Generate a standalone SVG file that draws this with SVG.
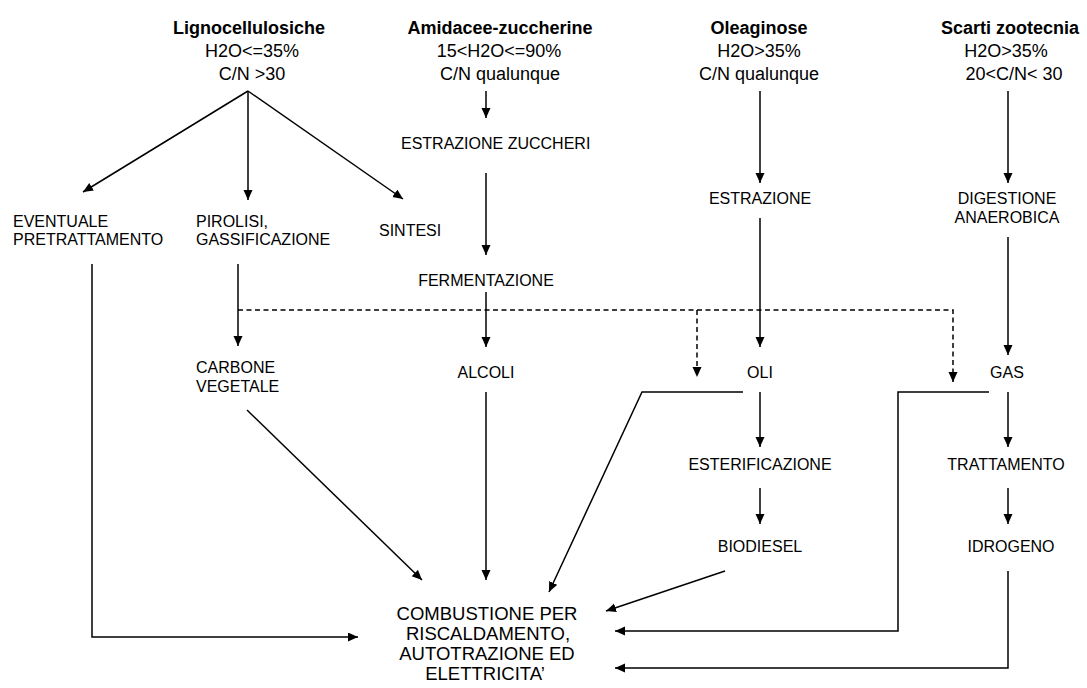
<svg xmlns="http://www.w3.org/2000/svg" width="1087" height="688" viewBox="0 0 1087 688">
<style>
.t{font-family:"Liberation Sans",Arial,sans-serif;font-size:18px;fill:#000;text-anchor:middle}
.b{font-weight:bold}
.n{font-family:"Liberation Sans",Arial,sans-serif;font-size:16px;fill:#000}
.m{text-anchor:middle}
.c{font-family:"Liberation Sans",Arial,sans-serif;font-size:18.5px;fill:#000;text-anchor:middle}
.l{fill:none;stroke:#000;stroke-width:1.5}
.a{marker-end:url(#ah)}
.d{stroke-dasharray:5,3.5}
</style>
<defs>
<marker id="ah" markerUnits="userSpaceOnUse" markerWidth="11" markerHeight="10" refX="10" refY="4.5" orient="auto" viewBox="0 0 11 10">
<path d="M0,0 L10,4.5 L0,9 z" fill="#000"/>
</marker>
</defs>
<rect width="1087" height="688" fill="#fff"/>
<g id="lignocellulosiche">
<text class="t b" x="249" y="34">Lignocellulosiche</text>
<text class="t" x="252" y="57">H2O&lt;=35%</text>
<text class="t" x="252" y="80">C/N &gt;30</text>
</g>
<g id="amidacee">
<text class="t b" x="500" y="34">Amidacee-zuccherine</text>
<text class="t" x="499" y="57">15&lt;H2O&lt;=90%</text>
<text class="t" x="500" y="80">C/N qualunque</text>
</g>
<g id="oleaginose">
<text class="t b" x="759" y="34">Oleaginose</text>
<text class="t" x="759" y="57">H2O&gt;35%</text>
<text class="t" x="759" y="80">C/N qualunque</text>
</g>
<g id="scarti">
<text class="t b" x="1010" y="34">Scarti zootecnia</text>
<text class="t" x="1006" y="57">H2O&gt;35%</text>
<text class="t" x="1014" y="80">20&lt;C/N&lt; 30</text>
</g>
<g id="eventuale"><text class="n" x="13" y="227">EVENTUALE</text><text class="n" x="13" y="245">PRETRATTAMENTO</text></g>
<g id="pirolisi"><text class="n" x="196" y="227">PIROLISI,</text><text class="n" x="196" y="245">GASSIFICAZIONE</text></g>
<g id="sintesi"><text class="n" x="379" y="236">SINTESI</text></g>
<g id="carbone"><text class="n" x="196" y="373">CARBONE</text><text class="n" x="196" y="392">VEGETALE</text></g>
<g id="estrazione-zuccheri"><text class="n" x="401" y="149">ESTRAZIONE ZUCCHERI</text></g>
<g id="fermentazione"><text class="n m" x="486" y="286">FERMENTAZIONE</text></g>
<g id="alcoli"><text class="n m" x="486" y="378">ALCOLI</text></g>
<g id="estrazione"><text class="n m" x="760" y="204">ESTRAZIONE</text></g>
<g id="oli"><text class="n m" x="760" y="378">OLI</text></g>
<g id="esterificazione"><text class="n m" x="760" y="470">ESTERIFICAZIONE</text></g>
<g id="biodiesel"><text class="n m" x="760" y="552">BIODIESEL</text></g>
<g id="digestione"><text class="n m" x="1007" y="204">DIGESTIONE</text><text class="n m" x="1007" y="223">ANAEROBICA</text></g>
<g id="gas"><text class="n m" x="1007" y="378">GAS</text></g>
<g id="trattamento"><text class="n m" x="1006" y="470">TRATTAMENTO</text></g>
<g id="idrogeno"><text class="n m" x="1011" y="552">IDROGENO</text></g>
<g id="combustione">
<text class="c" x="487" y="620">COMBUSTIONE PER</text>
<text class="c" x="488" y="640">RISCALDAMENTO,</text>
<text class="c" x="487" y="660">AUTOTRAZIONE ED</text>
<text class="c" x="485" y="680">ELETTRICITA’</text>
</g>
<g id="connectors">
<line class="l a" x1="248" y1="91" x2="83" y2="192"/>
<line class="l a" x1="248" y1="91" x2="248" y2="200"/>
<line class="l a" x1="248" y1="91" x2="403" y2="199"/>
<line class="l a" x1="486" y1="91" x2="486" y2="118"/>
<line class="l a" x1="486" y1="173" x2="486" y2="255"/>
<line class="l a" x1="486" y1="292" x2="486" y2="347"/>
<line class="l a" x1="486" y1="392" x2="486" y2="580"/>
<line class="l a" x1="760" y1="91" x2="760" y2="183"/>
<line class="l a" x1="760" y1="218" x2="760" y2="347"/>
<line class="l a" x1="760" y1="392" x2="760" y2="447"/>
<line class="l a" x1="760" y1="488" x2="760" y2="524"/>
<line class="l a" x1="1008" y1="91" x2="1008" y2="183"/>
<line class="l a" x1="1008" y1="237" x2="1008" y2="355"/>
<line class="l a" x1="1008" y1="392" x2="1008" y2="447"/>
<line class="l a" x1="1008" y1="488" x2="1008" y2="524"/>
<line class="l a" x1="238" y1="264" x2="238" y2="346"/>
<polyline class="l a" points="92,264 92,637 358,637"/>
<line class="l a" x1="247" y1="410" x2="422" y2="580"/>
<polyline class="l a" points="743,392 642,392 549,592"/>
<line class="l a" x1="725" y1="571" x2="606" y2="611"/>
<polyline class="l a" points="989,392 898,392 898,631 615,631"/>
<polyline class="l a" points="1008,571 1008,668 615,668"/>
<polyline class="l d" points="238,310 697,310"/>
<polyline class="l d a" points="697,310 697,377"/>
<polyline class="l d a" points="697,310 953,310 953,382"/>
</g>
</svg>
